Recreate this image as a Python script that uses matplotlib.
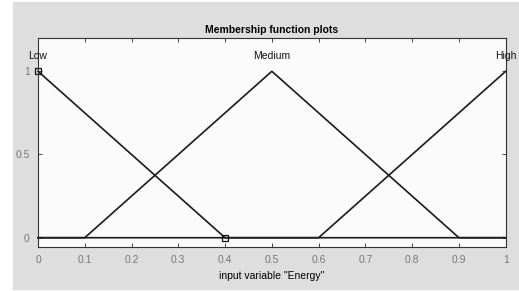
import numpy as np
import matplotlib.pyplot as plt
from matplotlib.patches import Rectangle

plt.rcParams['font.family'] = ['Liberation Sans', 'DejaVu Sans']

# membership functions (trimf params) of input "Energy"
mf_names = ['Low', 'Medium', 'High']
mf_params = [[-0.4, 0.0, 0.4], [0.1, 0.5, 0.9], [0.6, 1.0, 1.4]]
xticks = [0, 0.1, 0.2, 0.3, 0.4, 0.5, 0.6, 0.7, 0.8, 0.9, 1]
yticks = [0, 0.5, 1]

x = np.linspace(0, 1, 1001)

def trimf(x, p):
    a, b, c = p
    return np.maximum(np.minimum((x - a) / (b - a), (c - x) / (c - b)), 0)

fig = plt.figure(figsize=(5.19, 2.91), dpi=100, facecolor='white')
bg = Rectangle((13/519, 2/291), 1 - 13/519, 287/291,
               transform=fig.transFigure, color='#dedede', zorder=-10)
fig.add_artist(bg)
ax = fig.add_axes([38/519, 1 - 246.7/291, (505.7-38)/519, (246.7-37.5)/291])
ax.set_zorder(1)
ax.set_facecolor('#fbfbfb')

for name, p in zip(mf_names, mf_params):
    y = trimf(x, p)
    ax.plot(x, y, color='#1a1a1a', lw=1.2, clip_on=False)
    ax.text(p[1], 1.09, name, ha='center', va='center', fontsize=7.5, color='#111111')

# selected MF vertices
ax.plot([0, 0.4], [1, 0], 's', ms=4.5, mfc='none', mec='#111111', mew=0.9, clip_on=False)

ax.set_xlim(0, 1)
ax.set_ylim(-0.054, 1.203)
ax.set_xticks(xticks)
ax.set_xticklabels([('%g' % t) for t in xticks])
ax.set_yticks(yticks)
ax.set_yticklabels(['0', '0.5', '1'])
ax.tick_params(direction='in', top=True, right=True, length=3, width=0.7,
               labelsize=7.5, labelcolor='#777777', color='#444444', pad=6)
for s in ax.spines.values():
    s.set_linewidth(0.8)
    s.set_color('#333333')

ax.set_title('Membership function plots', fontsize=7.5, fontweight='bold', pad=3)
ax.set_xlabel('input variable "Energy"', fontsize=7.5, labelpad=4)

plt.savefig('out.png', dpi=100)
